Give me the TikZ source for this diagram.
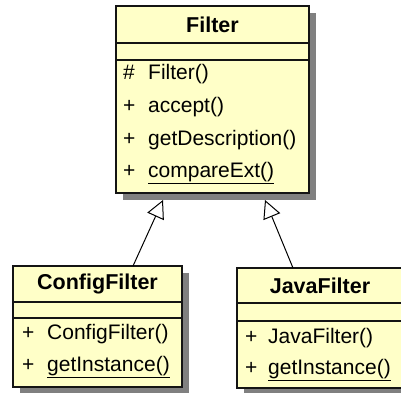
\documentclass[tikz,border=0pt]{standalone}
\usepackage{fontspec}
\setmainfont{Liberation Sans}
\usetikzlibrary{arrows.meta,calc,shadows}
\definecolor{classfill}{RGB}{255,255,200}
\definecolor{shadowgray}{RGB}{128,128,128}
\definecolor{edge}{RGB}{20,20,20}
\tikzset{
  classbox/.style={draw=edge, line width=1.6pt, fill=classfill, anchor=north west,
    inner sep=0pt, outer sep=0pt,
    drop shadow={shadow xshift=7pt, shadow yshift=-7pt, fill=shadowgray, opacity=1}},
  divider/.style={draw=edge, line width=1.6pt},
  title/.style={font=\fontsize{21.5}{24}\selectfont\bfseries, inner sep=0pt},
  member/.style={font=\fontsize{21}{24}\selectfont, anchor=mid west, inner sep=0pt},
  gen/.style={draw=black, line width=1pt, -{Triangle[open, length=18pt, width=18pt, fill=white]}}
}
\begin{document}
\begin{tikzpicture}[x=1pt,y=-1pt]
\useasboundingbox (0,0) rectangle (401,392);

% Filter
\node[classbox, minimum width=193pt, minimum height=187pt] (filter) at (116,6) {};
\draw[divider] ($(filter.north west)+(0,37)$) -- ($(filter.north east)+(0,37)$);
\draw[divider] ($(filter.north west)+(0,54)$) -- ($(filter.north east)+(0,54)$);
\node[title] (ftitle) at ($(filter.north)+(0,19)$) {Filter};
\node[member] (fv1) at ($(filter.north west)+(7,71)$) {\#};
\node[member] (fm1) at ($(filter.north west)+(32,71)$) {Filter()};
\node[member] (fv2) at ($(filter.north west)+(7,104)$) {+};
\node[member] (fm2) at ($(filter.north west)+(32,104)$) {accept()};
\node[member] (fv3) at ($(filter.north west)+(7,137)$) {+};
\node[member] (fm3) at ($(filter.north west)+(32,137)$) {getDescription()};
\node[member] (fv4) at ($(filter.north west)+(7,169)$) {+};
\node[member] (fm4) at ($(filter.north west)+(32,169)$) {\underline{compareExt()}};

% ConfigFilter
\node[classbox, minimum width=169pt, minimum height=121pt] (cfg) at (13,266) {};
\draw[divider] ($(cfg.north west)+(0,36)$) -- ($(cfg.north east)+(0,36)$);
\draw[divider] ($(cfg.north west)+(0,52)$) -- ($(cfg.north east)+(0,52)$);
\node[title] (ctitle) at ($(cfg.north)+(0,18)$) {ConfigFilter};
\node[member] (cv1) at ($(cfg.north west)+(9,71)$) {+};
\node[member] (cm1) at ($(cfg.north west)+(34,71)$) {ConfigFilter()};
\node[member] (cv2) at ($(cfg.north west)+(9,103)$) {+};
\node[member] (cm2) at ($(cfg.north west)+(34,103)$) {\underline{getInstance()}};

% JavaFilter (runs past the right edge)
\node[classbox, minimum width=172pt, minimum height=120pt] (java) at (237,268) {};
\draw[divider] ($(java.north west)+(0,35)$) -- ($(java.north east)+(0,35)$);
\draw[divider] ($(java.north west)+(0,53)$) -- ($(java.north east)+(0,53)$);
\node[title] (jtitle) at ($(java.north west)+(83,18)$) {JavaFilter};
\node[member] (jv1) at ($(java.north west)+(8,73)$) {+};
\node[member] (jm1) at ($(java.north west)+(31,73)$) {JavaFilter()};
\node[member] (jv2) at ($(java.north west)+(8,104)$) {+};
\node[member] (jm2) at ($(java.north west)+(31,104)$) {\underline{getInstance()}};

% generalizations
\coordinate (ltip) at ($(filter.south west)+(47,7)$);
\coordinate (rtip) at ($(filter.south west)+(149,7)$);
\draw[gen] ($(cfg.north west)+(120,0)$) -- (ltip);
\draw[gen] ($(java.north west)+(56,0)$) -- (rtip);
\end{tikzpicture}
\end{document}
